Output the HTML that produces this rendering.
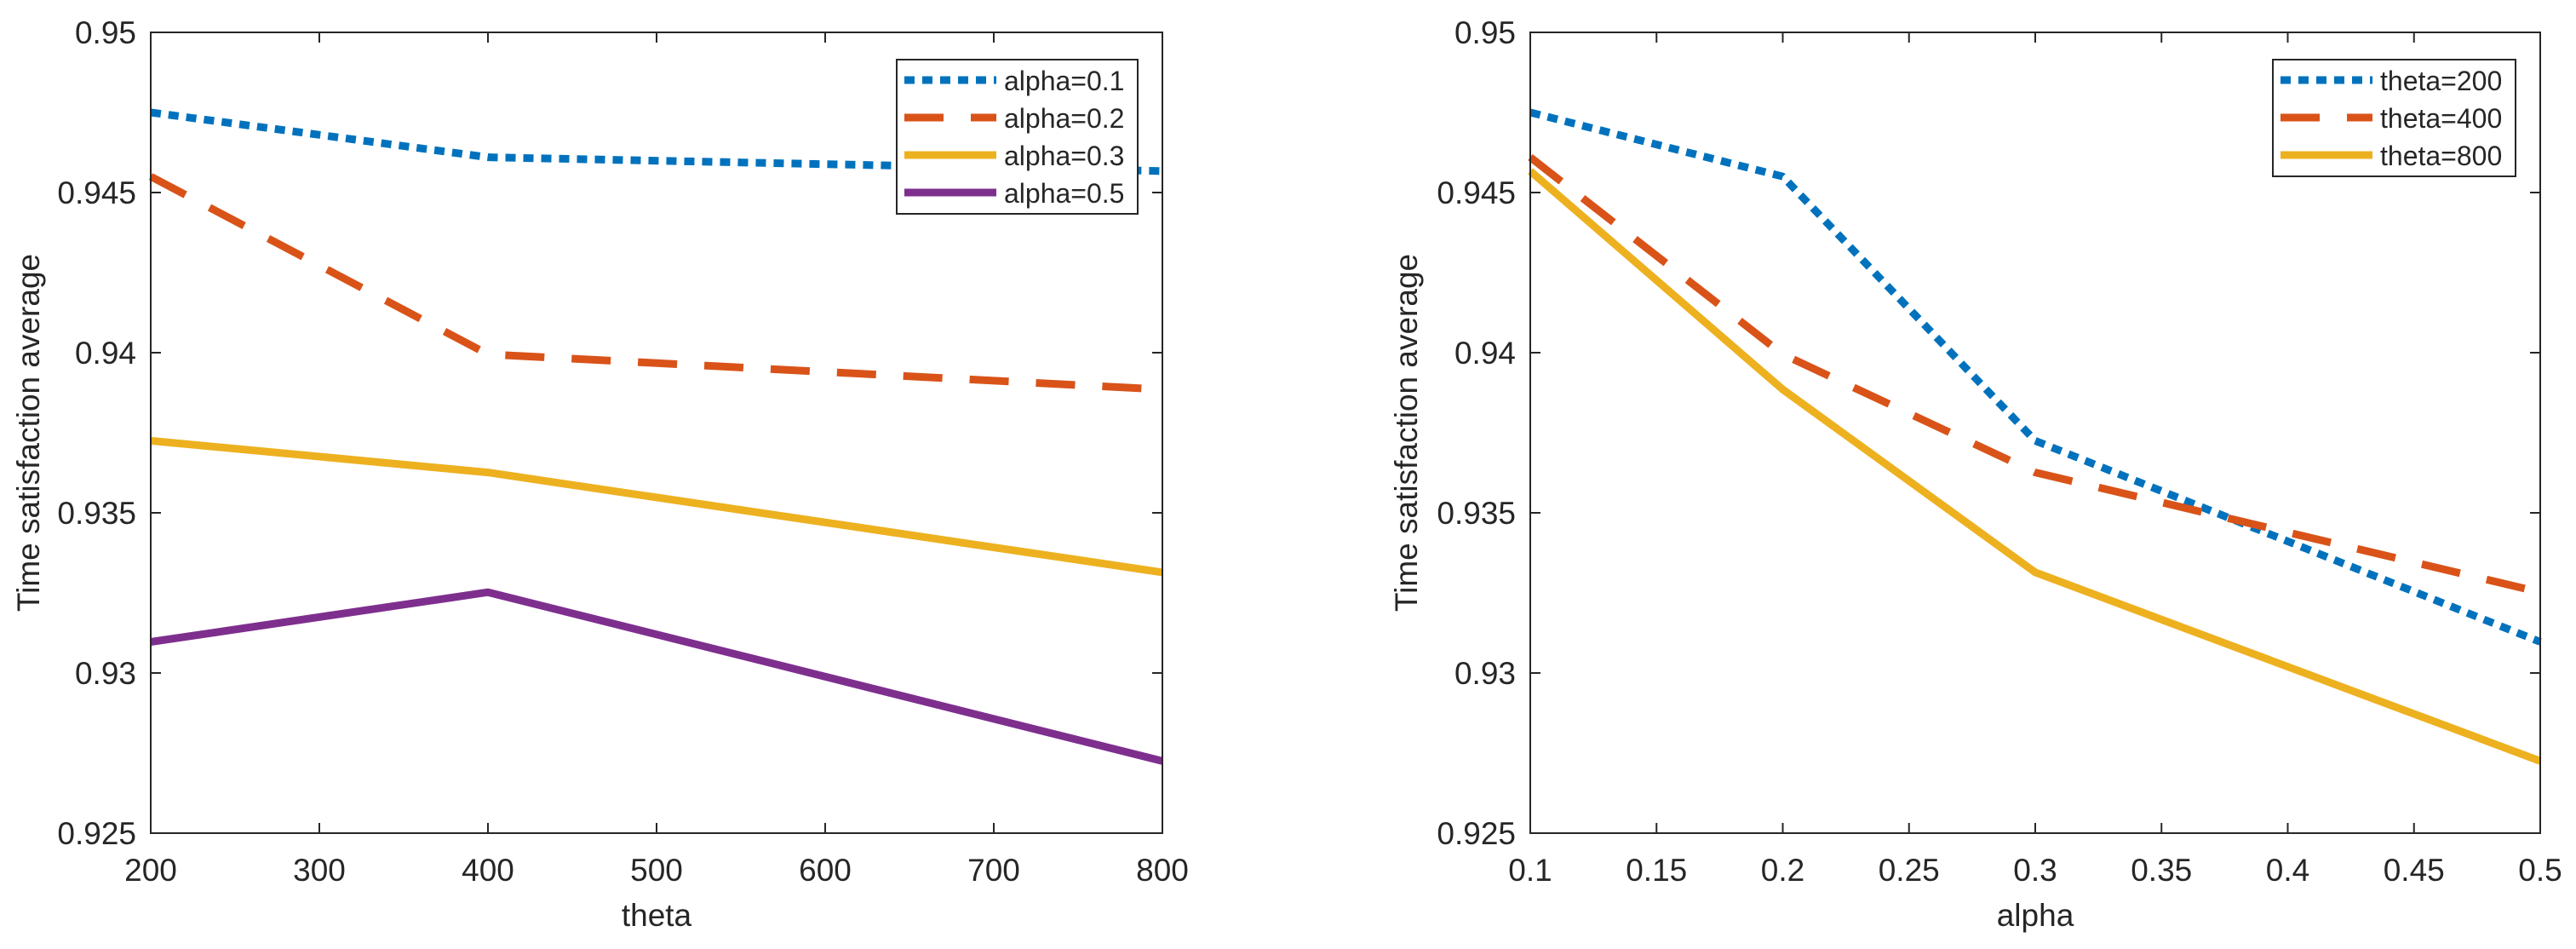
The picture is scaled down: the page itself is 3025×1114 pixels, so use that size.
<!DOCTYPE html>
<html><head><meta charset="utf-8"><style>
body{margin:0;background:#fff}
svg{display:block}
text{font-family:"Liberation Sans",Arial,sans-serif;fill:#262626}
</style></head><body>
<svg id="chart" width="3025" height="1114" viewBox="0 0 3025 1114" xmlns="http://www.w3.org/2000/svg"></svg>
<script>
const yTicks=[0.925,0.93,0.935,0.94,0.945,0.95];
const yTickLabels=["0.925","0.93","0.935","0.94","0.945","0.95"];
const thetaCats=[200,400,800];
const thetaTicks=[200,300,400,500,600,700,800];
const alphaCats=[0.1,0.2,0.3,0.5];
const alphaTicks=[0.1,0.15,0.2,0.25,0.3,0.35,0.4,0.45,0.5];
const alpha01=[0.9475,0.9461,0.94567];
const alpha02=[0.9455,0.93995,0.93885];
const alpha03=[0.93725,0.93626,0.93314];
const alpha05=[0.93097,0.93252,0.92725];
const theta200=[0.9475,0.9455,0.93725,0.93097];
const theta400=[0.9461,0.93995,0.93626,0.93252];
const theta800=[0.94567,0.93885,0.93314,0.92725];

const NS="http://www.w3.org/2000/svg";
const svg=document.getElementById('chart');
function mk(tag,attrs,parent){const e=document.createElementNS(NS,tag);for(const k in attrs)e.setAttribute(k,attrs[k]);(parent||svg).appendChild(e);return e;}
const styles={
 blue:{stroke:"#0072BD",dash:"12 9"},
 red:{stroke:"#D95319",dash:"46 32"},
 yellow:{stroke:"#EDB120",dash:""},
 purple:{stroke:"#7E2F8E",dash:""}
};
function panel(cfg){
 const g=mk('g',{});
 
 
 const L=cfg.left,R=cfg.right,T=38,B=978;
 const xs=v=>L+(v-cfg.xmin)/(cfg.xmax-cfg.xmin)*(R-L);
 const ys=v=>B-(v-0.925)/(0.95-0.925)*(B-T);
 cfg.series.forEach(s=>{
  const pts=cfg.cats.map((c,i)=>xs(c).toFixed(1)+","+ys(s.vals[i]).toFixed(1)).join(" ");
  const st=styles[s.style];
  const p=mk('polyline',{points:pts,fill:"none",stroke:st.stroke,"stroke-width":9,"stroke-dasharray":st.dash,"stroke-linejoin":"round"},g);
  
  
 });
 const box=mk('rect',{x:L,y:T,width:R-L,height:B-T,fill:"none",stroke:"#262626","stroke-width":2},g);
 
 
 cfg.xticks.forEach(v=>{
  const x=xs(v);
  mk('line',{x1:x,y1:B,x2:x,y2:B-12,stroke:"#262626","stroke-width":2},g);
  mk('line',{x1:x,y1:T,x2:x,y2:T+12,stroke:"#262626","stroke-width":2},g);
  const t=mk('text',{x:x,y:1034,"font-size":37,"text-anchor":"middle"},g);
  t.textContent=String(v);
  
  
 });
 yTicks.forEach((v,i)=>{
  const y=ys(v);
  mk('line',{x1:L,y1:y,x2:L+12,y2:y,stroke:"#262626","stroke-width":2},g);
  mk('line',{x1:R,y1:y,x2:R-12,y2:y,stroke:"#262626","stroke-width":2},g);
  const t=mk('text',{x:L-17,y:y+13,"font-size":37,"text-anchor":"end"},g);
  t.textContent=yTickLabels[i];
  
  
 });
 const xl=mk('text',{x:(L+R)/2,y:1087,"font-size":37,"text-anchor":"middle"},g);
 xl.textContent=cfg.xlabel;
 
 
 const yl=mk('text',{x:0,y:0,"font-size":37,"text-anchor":"middle",transform:`translate(${cfg.ylabx},508) rotate(-90)`},g);
 yl.textContent="Time satisfaction average";
 
 
 const lg=mk('g',{},g);
 
 
 const lh=cfg.series.length*44+5;
 mk('rect',{x:cfg.legx,y:70,width:cfg.legw,height:lh,fill:"#fff",stroke:"#262626","stroke-width":2},lg);
 cfg.series.forEach((s,i)=>{
  const y=94+i*44;
  const st=styles[s.style];
  mk('line',{x1:cfg.legx+9,y1:y,x2:cfg.legx+117,y2:y,stroke:st.stroke,"stroke-width":9,"stroke-dasharray":st.dash},lg);
  const t=mk('text',{x:cfg.legx+126,y:y+12,"font-size":32},lg);
  t.textContent=s.label;
  
  
 });
}
panel({name:'left-chart',left:177,right:1365,xmin:200,xmax:800,cats:thetaCats,xticks:thetaTicks,xlabel:'theta',ylabx:46,legx:1053,legw:283,
 series:[{label:'alpha=0.1',vals:alpha01,style:'blue'},{label:'alpha=0.2',vals:alpha02,style:'red'},{label:'alpha=0.3',vals:alpha03,style:'yellow'},{label:'alpha=0.5',vals:alpha05,style:'purple'}]});
panel({name:'right-chart',left:1797,right:2983,xmin:0.1,xmax:0.5,cats:alphaCats,xticks:alphaTicks,xlabel:'alpha',ylabx:1664,legx:2669,legw:285,
 series:[{label:'theta=200',vals:theta200,style:'blue'},{label:'theta=400',vals:theta400,style:'red'},{label:'theta=800',vals:theta800,style:'yellow'}]});
</script>
</body></html>
